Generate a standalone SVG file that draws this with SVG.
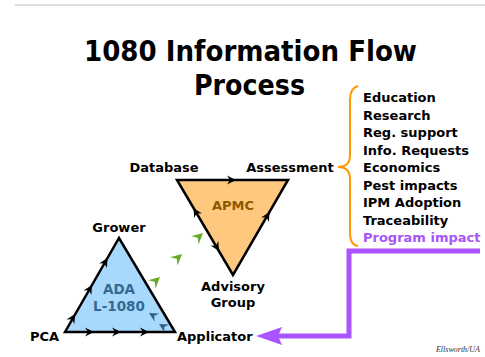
<svg xmlns="http://www.w3.org/2000/svg" width="485" height="357" viewBox="0 0 485 357">
<style>
text{font-family:"DejaVu Sans",Verdana,sans-serif;font-weight:bold}
.t{font-size:28px;fill:#000;text-anchor:middle}
.l{font-size:13px;fill:#000}
.c{text-anchor:middle}
.tri{stroke:#000;stroke-width:2.5;stroke-linejoin:miter}
.credit{font-family:"Liberation Serif",serif;font-style:italic;font-weight:normal;font-size:8px;fill:#333}
</style>
<defs>
<path id="ah" d="M0,0 L-9,-4.5 L-6,0 L-9,4.5 Z"/>
<path id="gh" d="M0,0 L-11,-5.5 L-7,0 L-11,5.5 Z"/>
</defs>
<line x1="15" y1="5" x2="485" y2="5" stroke="#BBBBBB" stroke-width="1"/>
<g id="title">
<text class="t" x="250.5" y="61" textLength="333" lengthAdjust="spacingAndGlyphs">1080 Information Flow</text>
<text class="t" x="249.5" y="95" textLength="111" lengthAdjust="spacingAndGlyphs">Process</text>
</g>
<g id="apmc">
<polygon class="tri" points="177,180 288,180 233,275" fill="#FFC87F"/>
<text class="l c" x="233" y="210" fill="#8A5A00" style="fill:#8A5A00">APMC</text>
</g>
<g id="ada">
<polygon class="tri" points="65,332 119,238 175,332" fill="#A8D8FB"/>
<text class="c" x="119" y="294" style="font-size:13.5px;fill:#336A94">ADA</text>
<text class="c" x="119" y="311" style="font-size:13.5px;fill:#336A94">L-1080</text>
</g>
<g id="database"><text class="l c" x="164" y="172">Database</text></g>
<g id="assessment"><text class="l c" x="290" y="172">Assessment</text></g>
<g id="advisory"><text class="l c" x="233" y="291">Advisory</text><text class="l c" x="233" y="307">Group</text></g>
<g id="grower"><text class="l c" x="119" y="232">Grower</text></g>
<g id="pca"><text class="l" x="30" y="341">PCA</text></g>
<g id="applicator"><text class="l" x="177" y="341">Applicator</text></g>
<g id="list">
<text class="l" x="363" y="102">Education</text>
<text class="l" x="363" y="119.5">Research</text>
<text class="l" x="363" y="137">Reg. support</text>
<text class="l" x="363" y="154.5">Info. Requests</text>
<text class="l" x="363" y="172">Economics</text>
<text class="l" x="363" y="189.5">Pest impacts</text>
<text class="l" x="363" y="207">IPM Adoption</text>
<text class="l" x="363" y="224.5">Traceability</text>
<text class="l" x="363" y="242" style="fill:#A855F7">Program impact</text>
</g>
<g id="connectors">
<path d="M358,86 Q350,88 350,100 L350,155 Q350,167 338,167 Q350,167 350,179 L350,233 Q350,245 358,246" fill="none" stroke="#FF9900" stroke-width="2"/>
<path d="M480,251 L349,251 L349,336 L278,336" fill="none" stroke="#AA55FF" stroke-width="5"/>
<path d="M256,336 L282,327 L278,336 L282,345 Z" fill="#AA55FF"/>
<g fill="#000">
<use href="#ah" transform="translate(236,180)"/>
<use href="#ah" transform="translate(193.5,208) rotate(-120.5)"/>
<use href="#ah" transform="translate(219,251) rotate(59.5)"/>
<use href="#ah" transform="translate(269.5,212) rotate(-60)"/>
<use href="#ah" transform="translate(75,314) rotate(-60)"/>
<use href="#ah" transform="translate(92,285) rotate(-60)"/>
<use href="#ah" transform="translate(107.5,258) rotate(-60)"/>
<use href="#ah" transform="translate(94,332)"/>
<use href="#ah" transform="translate(121,332)"/>
<use href="#ah" transform="translate(149,332)"/>
</g>
<g fill="#2F5F85">
<use href="#ah" transform="translate(149,313) rotate(-150)"/>
<use href="#ah" transform="translate(159,324) rotate(-150)"/>
</g>
<g fill="#66AA22">
<use href="#gh" transform="translate(160,277) rotate(-42)"/>
<use href="#gh" transform="translate(182,254) rotate(-42)"/>
<use href="#gh" transform="translate(203,233) rotate(-42)"/>
</g>
</g>
<text class="credit" x="480" y="352" text-anchor="end">Ellsworth/UA</text>
</svg>
